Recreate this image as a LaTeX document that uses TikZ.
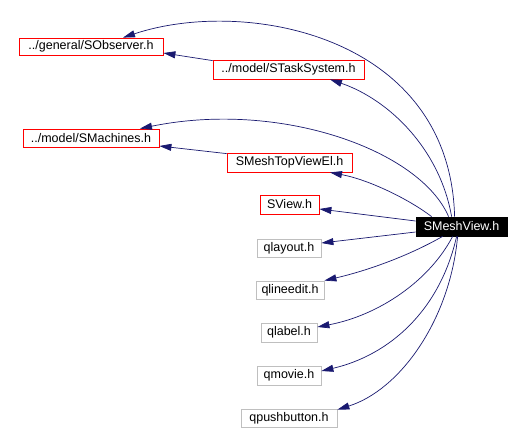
\documentclass[tikz,border=0pt]{standalone}
\usepackage{fontspec}
\setmainfont{Liberation Sans}
\usetikzlibrary{arrows.meta,calc}
\definecolor{edgeblue}{HTML}{191970}
\definecolor{boxgray}{HTML}{BFBFBF}
\begin{document}
\begin{tikzpicture}[x=1pt,y=-1pt,
  box/.style={draw, line width=0.8pt, inner sep=0pt, font=\fontsize{12.5}{14}\selectfont},
  redbox/.style={box, draw=red},
  graybox/.style={box, draw=boxgray},
  mainbox/.style={box, draw=black, fill=black, text=white},
  edge/.style={draw=edgeblue, line width=0.7pt, -{Triangle[length=12pt,width=7pt]}, fill=none}]
\useasboundingbox[fill=white] (0,0) rectangle (524,434);
\node[redbox, minimum width=144pt, minimum height=17pt] (so) at (91,46.5) {../general/SObserver.h};
\node[redbox, minimum width=151pt, minimum height=19pt] (sts) at (288.5,69.5) {../model/STaskSystem.h};
\node[redbox, minimum width=136pt, minimum height=18pt] (smach) at (91,138) {../model/SMachines.h};
\node[redbox, minimum width=125pt, minimum height=19pt] (smtv) at (289.5,162.5) {SMeshTopViewEl.h};
\node[redbox, minimum width=59pt, minimum height=19pt] (sv) at (289.5,204.5) {SView.h};
\node[mainbox, minimum width=91pt, minimum height=19pt] (smv) at (461.5,226.5) {SMeshView.h};
\node[graybox, minimum width=64pt, minimum height=18pt] (qlay) at (289,248) {qlayout.h};
\node[graybox, minimum width=68pt, minimum height=18pt] (qle) at (290,290) {qlineedit.h};
\node[graybox, minimum width=56pt, minimum height=19pt] (qlab) at (289,332.5) {qlabel.h};
\node[graybox, minimum width=64pt, minimum height=19pt] (qm) at (289,375.5) {qmovie.h};
\node[graybox, minimum width=96pt, minimum height=18pt] (qpb) at (289,418) {qpushbutton.h};
% edges from SMeshView
\draw[edge] ($(smv.north west)+(39,0)$) .. controls (450,35) and (245,-3) .. ($(so.north)+(32,0)$);
\draw[edge] ($(smv.north west)+(36,0)$) .. controls (440,150) and (390,100) .. ($(sts.south)+(41.5,0)$);
\draw[edge] ($(smv.north west)+(33,0)$) .. controls (420,150) and (280,100) .. ($(smach.north)+(49,0)$);
\draw[edge] ($(smv.north west)+(16,0)$) .. controls (410,200) and (370,180) .. ($(smtv.south)+(40.5,0)$);
\draw[edge] ($(smv.west)+(0,-5.5)$) -- ($(sv.east)+(0,4.5)$);
\draw[edge] ($(smv.west)+(0,5.5)$) -- ($(qlay.east)+(0,-5)$);
\draw[edge] ($(smv.south west)+(27,0)$) .. controls (410,255) and (370,270) .. (qle.north east);
\draw[edge] ($(smv.south west)+(37,0)$) .. controls (430,280) and (380,315) .. ($(qlab.east)+(0,-5.5)$);
\draw[edge] ($(smv.south west)+(41,0)$) .. controls (440,310) and (390,355) .. ($(qm.east)+(0,-4.5)$);
\draw[edge] ($(smv.south west)+(42,0)$) .. controls (450,320) and (400,390) .. ($(qpb.north east)+(0,1)$);
% other edges
\draw[edge] ($(sts.north west)+(0,1)$) -- ($(so.east)+(0,6.5)$);
\draw[edge] ($(smtv.north west)+(0,1)$) -- ($(smach.east)+(0,8)$);
\end{tikzpicture}
\end{document}
